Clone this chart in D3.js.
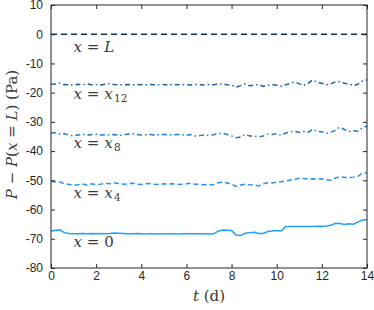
<!DOCTYPE html>
<html><head><meta charset="utf-8">
<script src="https://cdn.jsdelivr.net/npm/d3@7"></script>
<style>
body{margin:0;background:#fff;}
svg{display:block;}
.tick text{font-family:"Liberation Sans",Arial,sans-serif;font-size:12px;fill:#262626;}
.lbl{font-family:"DejaVu Serif",serif;font-size:15px;fill:#3a3a3a;}
</style></head>
<body>
<svg id="c" width="374" height="310"></svg>
<script>
const T = [0,0.2,0.4,0.6,0.8,1.0,1.2,1.4,1.6,1.8,2.0,2.2,2.4,2.6,2.8,3.0,3.2,3.4,3.6,3.8,4.0,4.2,4.4,4.6,4.8,5.0,5.2,5.4,5.6,5.8,6.0,6.2,6.4,6.6,6.8,7.0,7.2,7.4,7.6,7.8,8.0,8.2,8.4,8.6,8.8,9.0,9.2,9.4,9.6,9.8,10.0,10.2,10.4,10.6,10.8,11.0,11.2,11.4,11.6,11.8,12.0,12.2,12.4,12.6,12.8,13.0,13.2,13.4,13.6,13.8,14.0];
const tL = [0, 14];
const pL = [0, 0];
const p12 = [-17.1,-17.0,-16.7,-17.3,-17.2,-17.4,-17.1,-17.3,-17.0,-17.3,-17.2,-17.4,-17.1,-16.9,-17.2,-17.3,-17.3,-17.2,-17.3,-17.2,-17.3,-17.3,-17.2,-17.3,-17.3,-17.2,-17.4,-17.1,-17.3,-17.2,-17.3,-17.4,-17.2,-17.3,-17.4,-17.2,-17.3,-17.1,-17.0,-17.3,-17.4,-18.1,-17.6,-17.0,-17.6,-17.4,-17.2,-17.9,-17.5,-17.3,-17.5,-17.8,-17.3,-16.8,-16.3,-17.0,-17.5,-16.7,-15.6,-16.5,-16.8,-17.3,-17.0,-16.3,-16.2,-16.8,-17.0,-17.6,-17.1,-16.0,-15.6];
const p8 = [-33.8,-33.7,-34.2,-34.0,-34.6,-34.8,-34.5,-34.2,-34.6,-34.3,-34.2,-34.5,-34.4,-34.5,-34.3,-34.6,-34.4,-34.2,-34.0,-34.3,-34.5,-34.4,-34.3,-34.5,-34.4,-34.3,-34.4,-34.5,-34.3,-34.4,-34.6,-34.3,-34.8,-34.7,-34.5,-34.6,-34.4,-34.0,-33.9,-34.3,-34.8,-35.4,-35.2,-34.3,-34.8,-34.9,-35.1,-34.8,-34.2,-34.3,-34.0,-34.6,-33.8,-33.4,-33.2,-33.6,-33.3,-33.5,-32.5,-33.3,-33.4,-33.9,-33.5,-32.8,-31.8,-32.6,-33.3,-33.0,-33.2,-32.0,-31.4];
const p4 = [-50.4,-50.5,-50.6,-51.2,-51.4,-51.6,-51.5,-51.3,-51.6,-51.2,-51.5,-51.3,-51.0,-51.2,-50.9,-51.1,-51.3,-51.2,-51.0,-51.3,-51.4,-51.2,-51.1,-51.3,-51.4,-51.2,-51.3,-51.2,-51.4,-51.3,-51.2,-51.0,-51.3,-51.4,-51.5,-51.6,-51.4,-50.8,-50.6,-50.9,-51.3,-52.1,-51.6,-51.3,-51.5,-51.6,-51.9,-51.2,-50.8,-50.9,-50.6,-50.5,-50.2,-49.9,-49.6,-49.3,-49.4,-49.6,-49.5,-49.6,-49.5,-49.8,-50.0,-49.2,-48.8,-49.0,-49.1,-48.9,-48.6,-47.5,-47.4];
const p0 = [-67.4,-67.1,-67.0,-67.9,-68.2,-68.3,-68.3,-68.2,-68.3,-68.2,-68.3,-68.2,-68.3,-68.2,-68.0,-68.1,-68.2,-68.3,-68.3,-68.2,-68.3,-68.4,-68.3,-68.3,-68.4,-68.3,-68.3,-68.3,-68.4,-68.3,-68.3,-68.3,-68.3,-68.3,-68.3,-68.4,-68.3,-67.4,-67.0,-67.1,-67.2,-68.7,-68.9,-68.1,-67.9,-67.8,-68.2,-68.2,-67.5,-67.3,-67.2,-67.3,-65.8,-65.8,-65.8,-65.8,-65.8,-65.8,-65.8,-65.7,-65.7,-65.6,-65.4,-64.7,-64.8,-65.1,-64.9,-65.0,-64.2,-63.6,-63.5];
const xTicks = [0,2,4,6,8,10,12,14];
const yTicks = [10,0,-10,-20,-30,-40,-50,-60,-70,-80];

const W = 374, H = 310;
const m = {l:51, r:7, t:5, b:42};
const svg = d3.select('#c');
const x = d3.scaleLinear().domain([0,14]).range([m.l, W-m.r]);
const y = d3.scaleLinear().domain([-80,10]).range([H-m.b, m.t]);

const series = [
  {t:tL, v:pL, color:'#0f2f52', dash:'6,4'},
  {t:T, v:p12, color:'#19609f', dash:'5,3,1.5,3'},
  {t:T, v:p8, color:'#1f78c6', dash:'5,3,1.5,3'},
  {t:T, v:p4, color:'#2a8ff0', dash:'5,3'},
  {t:T, v:p0, color:'#21a0ff', dash:null}
];
const line = d3.line().x(d=>x(d[0])).y(d=>y(d[1]));
series.forEach(s=>{
  const pts = s.t.map((t,i)=>[t,s.v[i]]);
  const p = svg.append('path').attr('d', line(pts)).attr('fill','none')
    .attr('stroke', s.color).attr('stroke-width',1.5);
  if (s.dash) p.attr('stroke-dasharray', s.dash);
});

// axes with inward ticks
const tk = 4;
const gB = svg.append('g').attr('transform',`translate(0,${H-m.b})`)
  .call(d3.axisBottom(x).tickValues(xTicks).tickSizeInner(-tk).tickSizeOuter(0).tickPadding(3));
const gT = svg.append('g').attr('transform',`translate(0,${m.t})`)
  .call(d3.axisTop(x).tickValues(xTicks).tickSizeInner(-tk).tickSizeOuter(0).tickFormat(''));
const gL = svg.append('g').attr('transform',`translate(${m.l},0)`)
  .call(d3.axisLeft(y).tickValues(yTicks).tickSizeInner(-tk).tickSizeOuter(0).tickPadding(8).tickFormat(d=>String(d)));
const gR = svg.append('g').attr('transform',`translate(${W-m.r},0)`)
  .call(d3.axisRight(y).tickValues(yTicks).tickSizeInner(-tk).tickSizeOuter(0).tickFormat(''));
[gB,gT,gL,gR].forEach(g=>{
  g.select('.domain').remove();
  g.selectAll('.tick line').attr('stroke','#262626');
});
svg.append('rect').attr('x',m.l).attr('y',m.t).attr('width',W-m.l-m.r).attr('height',H-m.t-m.b)
  .attr('fill','none').attr('stroke','#262626').attr('stroke-width',1);

// series labels
const labels = [
  {t:1.0, v:-6.1, parts:[['x','i'],[' = ','n'],['L','i']]},
  {t:1.0, v:-22.3, parts:[['x','i'],[' = ','n'],['x','i'],['12','s']]},
  {t:1.0, v:-39.1, parts:[['x','i'],[' = ','n'],['x','i'],['8','s']]},
  {t:1.0, v:-56.2, parts:[['x','i'],[' = ','n'],['x','i'],['4','s']]},
  {t:1.0, v:-72.8, parts:[['x','i'],[' = ','n'],['0','n']]}
];
labels.forEach(L=>{
  const tx = svg.append('text').attr('class','lbl').attr('x',x(L.t)).attr('y',y(L.v)).attr('xml:space','preserve');
  L.parts.forEach(p=>{
    const ts = tx.append('tspan').text(p[0]);
    if (p[1]==='i') ts.attr('font-style','italic');
    if (p[1]==='s') ts.attr('font-size','10.5px').attr('dy','3').attr('dx','1.5');
  });
});

// axis labels
const xl = svg.append('text').attr('class','lbl').attr('x',(m.l+W-m.r)/2).attr('y',301).attr('text-anchor','middle').attr('xml:space','preserve');
xl.append('tspan').attr('font-style','italic').text('t');
xl.append('tspan').text(' (d)');

const yl = svg.append('text').attr('class','lbl').attr('transform',`translate(17,${(m.t+H-m.b)/2-2}) rotate(-90)`).attr('text-anchor','middle').attr('xml:space','preserve');
yl.append('tspan').attr('font-style','italic').text('P');
yl.append('tspan').text(' \u2212 ');
yl.append('tspan').attr('font-style','italic').text('P');
yl.append('tspan').text('(');
yl.append('tspan').attr('font-style','italic').text('x');
yl.append('tspan').text(' = ');
yl.append('tspan').attr('font-style','italic').text('L');
yl.append('tspan').text(') (Pa)');
</script>
</body></html>
